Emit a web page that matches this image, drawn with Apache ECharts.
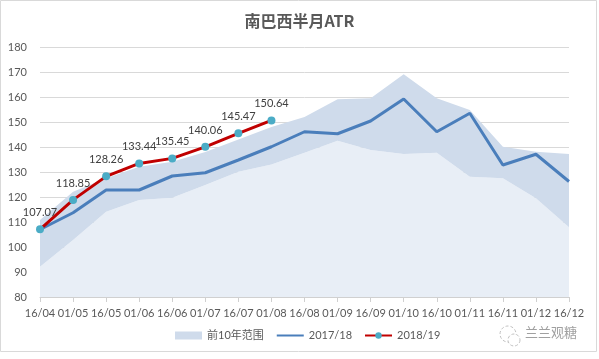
<!DOCTYPE html>
<html><head><meta charset="utf-8">
<script src="https://cdn.jsdelivr.net/npm/echarts@6/dist/echarts.min.js"></script>
<style>html,body{margin:0;padding:0;background:#fff}#c{width:599px;height:359px}</style>
</head><body><div id="c"></div>
<script>
const categories = ['16/04','01/05','16/05','01/06','16/06','01/07','16/07','01/08','16/08','01/09','16/09','01/10','16/10','01/11','16/11','01/12','16/12'];
const rangeLow  = [92.1, 102.8, 114.1, 118.8, 119.7, 124.8, 130.1, 133.0, 137.7, 142.5, 138.8, 137.2, 137.7, 128.1, 127.5, 119.5, 107.9];
const rangeHigh = [110.8, 122.1, 127.5, 132.1, 134.1, 138.0, 143.0, 148.0, 152.0, 159.1, 159.5, 169.1, 159.5, 154.8, 140.1, 138.1, 137.2];
const s2017 = [107.0, 113.7, 122.8, 122.8, 128.4, 129.7, 134.8, 140.1, 146.1, 145.3, 150.4, 159.2, 146.1, 153.5, 132.8, 137.1, 126.2];
const s2018 = [107.07, 118.85, 128.26, 133.44, 135.45, 140.06, 145.47, 150.64];
const yTicks = [80, 90, 100, 110, 120, 130, 140, 150, 160, 170, 180];

const rangeDiff = rangeHigh.map((v, i) => +(v - rangeLow[i]).toFixed(2));
const txt = '#595959';
const font = 'Lato, "Noto Sans CJK SC", sans-serif';

const chart = echarts.init(document.getElementById('c'));
chart.setOption({
  animation: false,
  textStyle: { fontFamily: font },
  title: {
    text: '南巴西半月ATR', left: 'center', top: 8,
    textStyle: { fontSize: 16, fontWeight: 'bold', color: txt, fontFamily: '"Noto Sans CJK SC", sans-serif' }
  },
  grid: { left: 40, right: 30, top: 47, bottom: 62 },
  legend: {
    bottom: 13, left: 170, itemWidth: 27, itemHeight: 8, itemGap: 12,
    textStyle: { color: txt, fontSize: 11, fontFamily: font },
    data: [
      { name: '前10年范围', icon: 'rect' },
      { name: '2017/18', itemStyle: { opacity: 0 } },
      { name: '2018/19' }
    ]
  },
  xAxis: {
    type: 'category', data: categories, boundaryGap: false,
    axisLine: { lineStyle: { color: '#d0d0d0' } },
    axisTick: { show: true, length: 5, alignWithLabel: true, lineStyle: { color: '#d0d0d0' } },
    axisLabel: { color: txt, fontSize: 11, margin: 11, interval: 0 }
  },
  yAxis: {
    type: 'value', min: yTicks[0], max: yTicks[yTicks.length - 1], interval: 10,
    axisLine: { show: false }, axisTick: { show: false },
    axisLabel: { color: txt, fontSize: 11, margin: 13 },
    splitLine: { lineStyle: { color: '#d9d9d9' } }
  },
  graphic: [
    { type: 'text', left: 525, top: 326, style: { text: '兰兰观糖', fill: '#a0a0a0', fontSize: 13, fontFamily: '"Noto Sans CJK SC", sans-serif' } },
    { type: 'circle', shape: { cx: 508, cy: 334, r: 8 }, style: { fill: 'none', stroke: '#c0c0c0', lineWidth: 1, lineDash: [3, 2] }, silent: true },
    { type: 'circle', shape: { cx: 514, cy: 340, r: 6 }, style: { fill: '#fff', stroke: '#c0c0c0', lineWidth: 1, lineDash: [3, 2] }, silent: true },
    { type: 'rect', shape: { x: 0.5, y: 0.5, width: 596, height: 351 }, style: { fill: 'none', stroke: '#d9d9d9', lineWidth: 1 }, silent: true }
  ],
  series: [
    {
      name: 'low', type: 'line', stack: 'band', data: rangeLow, symbol: 'none',
      lineStyle: { width: 0 }, areaStyle: { color: '#e8eef6', opacity: 1 }, z: 1, silent: true
    },
    {
      name: '前10年范围', type: 'line', stack: 'band', data: rangeDiff, symbol: 'none',
      itemStyle: { color: '#cfdbeb' },
      lineStyle: { width: 0 }, areaStyle: { color: '#cfdbeb', opacity: 1 }, z: 1, silent: true
    },
    {
      name: '2017/18', type: 'line', data: s2017, symbol: 'none',
      itemStyle: { color: '#4a7ebb' }, lineStyle: { color: '#4a7ebb', width: 3 }, z: 3
    },
    {
      name: '2018/19', type: 'line', data: s2018, symbol: 'circle', symbolSize: 8,
      itemStyle: { color: '#4bacc6' }, lineStyle: { color: '#c00000', width: 3 }, z: 4,
      label: { show: true, position: 'top', distance: 7, color: '#404040', fontSize: 11, formatter: p => p.value.toFixed(2) }
    }
  ]
});
</script></body></html>
